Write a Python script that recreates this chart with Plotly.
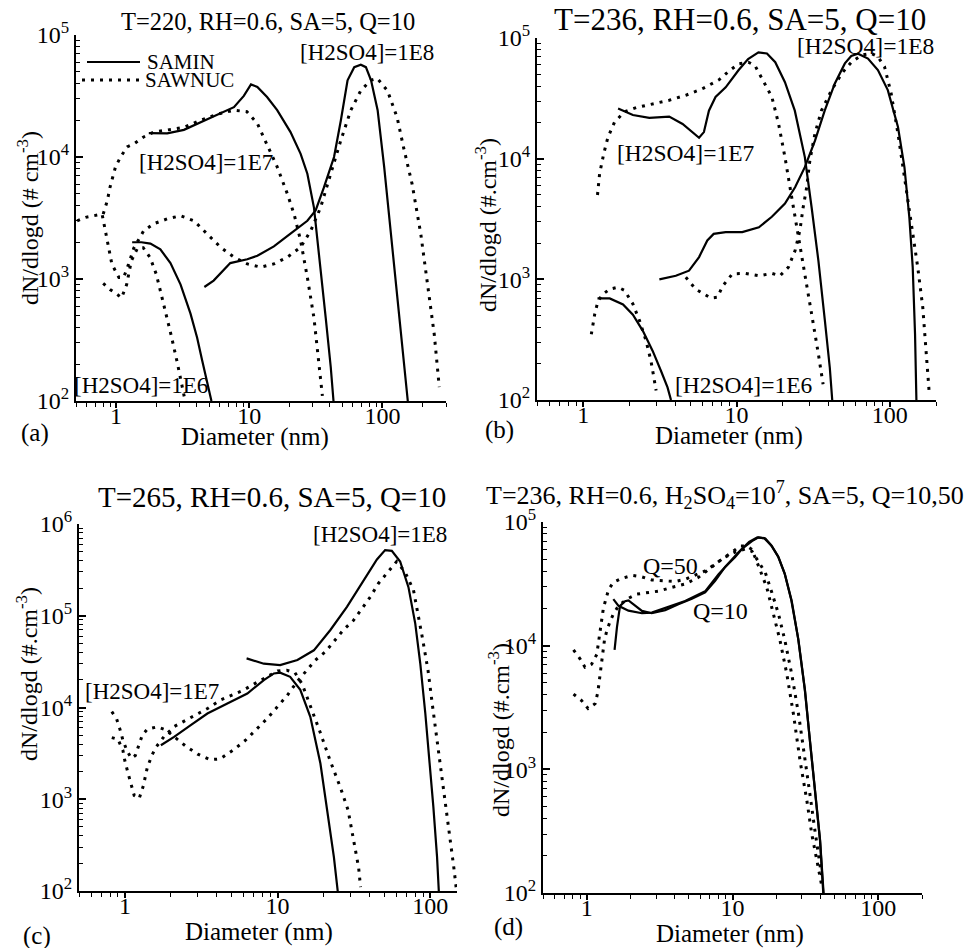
import math
import plotly.graph_objects as go

# ---- data (diameter in nm, dN/dlogd in #/cm3) ----
# (a) T=220
a_min_1e6_d = [1.32, 1.55, 1.81, 2.15, 2.56, 3.05, 3.62, 4.06, 4.43, 4.83, 5.2]
a_min_1e6_n = [2000, 2000, 1950, 1750, 1350, 900, 520, 330, 215, 140, 100]
a_nuc_1e6_d = [0.8, 0.9, 1.0, 1.1, 1.2, 1.3, 1.45, 1.6, 1.8, 2.0, 2.15, 2.4, 2.6, 2.87, 3.13, 3.3]
a_nuc_1e6_n = [920, 820, 760, 700, 900, 1400, 1800, 1800, 1500, 1100, 800, 500, 340, 210, 130, 100]
a_min_1e7_d = [1.76, 2.42, 3.23, 4.31, 5.74, 7.67, 9.1, 10.3, 11.5, 13.6, 16.2, 20.4, 24.3, 27.3,
               30.6, 34.3, 37.5, 40.9, 42.9]
a_min_1e7_n = [15700, 15600, 16700, 19300, 22400, 25600, 31700, 39300, 37500, 31000, 24200, 16000,
               10600, 7300, 3850, 1250, 480, 190, 100]
a_nuc_1e7_d = [0.8, 0.86, 0.9, 0.99, 1.08, 1.21, 1.36, 1.61, 1.92, 2.42, 3.23, 4.31, 5.74, 7.67,
               9.6, 11.5, 13.6, 16.2, 19.3, 21.7, 24.3, 27.3, 30.6, 33.4, 35.4]
a_nuc_1e7_n = [3400, 4400, 5650, 8300, 10000, 12100, 12800, 14600, 16000, 16700, 17500, 20000,
               22400, 24200, 23500, 18800, 12800, 8300, 5000, 3400, 2060, 1030, 480, 190, 110]
a_min_1e8_d = [4.6, 5.4, 7.2, 9.66, 11.5, 15.3, 20.4, 27.3, 31.5, 36.3, 43.3, 48.7, 54.7, 61.4,
               68.8, 75.1, 82.1, 92.0, 103, 116, 126, 137, 150, 155]
a_min_1e8_n = [860, 970, 1350, 1450, 1550, 1850, 2350, 3000, 3650, 5600, 10000, 19900, 42500,
               54500, 57000, 54500, 42500, 24200, 8300, 2350, 910, 350, 140, 100]
a_nuc_1e8_d = [0.51, 0.59, 0.68, 0.785, 0.856, 0.93, 1.05, 1.14, 1.24, 1.36, 1.61, 1.92, 2.42,
               3.05, 3.84, 4.83, 6.09, 7.67, 9.66, 12.2, 15.3, 19.3, 24.3, 28.9, 34.3, 40.9, 48.7,
               57.9, 68.7, 81.5, 91.5, 109, 129, 144, 167, 194, 219, 245, 267]
a_nuc_1e8_n = [3000, 3200, 3300, 3400, 2100, 1320, 1030, 1030, 1320, 1800, 2480, 2840, 3110, 3300,
               3000, 2340, 1820, 1510, 1330, 1250, 1330, 1510, 1820, 2480, 3850, 7300, 13700,
               24200, 35000, 42500, 44000, 35000, 21000, 12000, 6000, 2340, 910, 350, 130]

# (b) T=236
b_min_1e6_d = [1.24, 1.49, 1.82, 2.11, 2.45, 2.84, 3.22, 3.55, 3.74]
b_min_1e6_n = [695, 695, 620, 510, 374, 255, 174, 127, 100]
b_nuc_1e6_d = [1.13, 1.19, 1.25, 1.35, 1.49, 1.69, 1.86, 2.11, 2.33, 2.57, 2.77, 2.91, 2.99]
b_nuc_1e6_n = [350, 515, 663, 755, 830, 860, 810, 625, 455, 310, 210, 150, 120]
b_min_1e7_d = [1.69, 2.11, 2.7, 3.64, 4.45, 5.16, 5.7, 6.13, 6.61, 7.3, 8.5, 10.3, 11.9, 13.9,
               15.8, 17.9, 20.7, 24.0, 27.9, 30.9, 34.2, 37.7, 40.6, 42.1]
b_min_1e7_n = [26000, 23000, 21800, 22300, 19400, 16600, 14900, 16600, 25000, 32500, 39000, 54000,
               67000, 76000, 74500, 63000, 43000, 25000, 10300, 3940, 1430, 455, 185, 100]
b_nuc_1e7_d = [1.24, 1.28, 1.36, 1.45, 1.6, 1.86, 2.22, 2.84, 3.64, 4.66, 5.99, 7.69, 8.9, 10.3,
               11.96, 13.2, 14.6, 17.0, 18.8, 20.7, 22.9, 25.3, 27.9, 30.9, 34.2, 36.7]
b_nuc_1e7_n = [5000, 7500, 10900, 15000, 20000, 24500, 26500, 28500, 30500, 33500, 38000, 45000,
               53000, 61000, 63000, 59000, 47000, 32500, 19500, 10300, 4800, 2230, 1110, 515, 240, 135]
b_min_1e8_d = [3.14, 4.02, 4.9, 5.7, 6.45, 7.1, 8.5, 10.9, 14.0, 17.0, 20.7, 24.1, 27.9, 32.5,
               37.6, 43.8, 50.9, 56, 62, 72, 83.6, 97, 113, 124.5, 134, 141, 146, 149]
b_min_1e8_n = [1000, 1070, 1180, 1530, 2100, 2380, 2460, 2460, 2700, 3300, 4240, 5800, 8500, 14100,
               25000, 42000, 61600, 71000, 74000, 67600, 54200, 37000, 18300, 8500, 3270, 1260, 352, 100]
b_nuc_1e8_d = [4.67, 5.42, 6.14, 6.79, 7.5, 8.15, 9.4, 11.4, 14.0, 17.0, 19.2, 21.8, 24.1, 25.9,
               27.2, 28.7, 30.1, 32.5, 35.8, 41.7, 48.7, 56.1, 65.2, 75.7, 83.6, 92.3, 102, 113,
               124.5, 137, 152, 164, 172, 181]
b_nuc_1e8_n = [1040, 830, 755, 700, 710, 885, 1110, 1120, 1070, 1120, 1070, 1260, 1730, 2540, 3940,
               5800, 9700, 16200, 25000, 37000, 51000, 63000, 72000, 74600, 70000, 57800, 34700,
               16100, 7050, 3080, 1260, 585, 255, 111]

# (c) T=265
c_min_1e7_d = [1.72, 2.1, 2.7, 3.47, 4.69, 6.34, 8.13, 9.47, 10.4, 12.1, 14.1, 16.4, 19.1, 21.1,
               23.4, 24.8]
c_min_1e7_n = [3880, 4790, 6410, 8600, 11070, 14200, 19900, 23500, 24000, 21600, 15600, 7900, 2450,
               823, 235, 100]
c_nuc_1e7_d = [0.82, 0.9, 0.97, 1.0, 1.05, 1.1, 1.15, 1.24, 1.32, 1.4, 1.5, 1.6, 1.8, 2.1, 2.5,
               3.0, 3.5, 4.2, 5.0, 6.0, 7.0, 8.0, 9.0, 10.0, 11.5, 13.0, 14.5, 16.4, 19.0, 22.0,
               26.0, 29.0, 31.6, 34.0, 35.0]
c_nuc_1e7_n = [4700, 4500, 3400, 2600, 1900, 1400, 1100, 1020, 1400, 2200, 3000, 3700, 4800, 6200,
               7200, 8500, 9800, 12000, 13500, 15500, 18000, 20500, 23000, 25000, 25500, 24000,
               18000, 10500, 5400, 2700, 1300, 760, 360, 180, 110]
c_min_1e8_d = [6.27, 8.13, 10.4, 13.5, 17.3, 22.2, 28.5, 36.6, 44.8, 50.7, 56.1, 63.6, 72.1, 79.9,
               86.2, 93.0, 100, 105, 111, 114]
c_min_1e8_n = [34300, 30000, 29000, 33000, 42000, 70000, 125000, 245000, 410000, 520000, 510000,
               390000, 205000, 82000, 30000, 8600, 2250, 824, 235, 100]
c_nuc_1e8_d = [0.82, 0.88, 0.93, 0.97, 1.03, 1.1, 1.17, 1.24, 1.3, 1.4, 1.5, 1.63, 1.85, 2.1, 2.5,
               3.0, 3.6, 4.2, 5.18, 6.17, 7.36, 8.55, 9.94, 11.6, 13.4, 15.6, 17.7, 20.6, 23.3,
               27.0, 31.4, 35.8, 40.5, 45.8, 51.9, 60.3, 68.4, 77.8, 89.6, 97, 104, 112, 120, 128,
               136, 143, 149]
c_nuc_1e8_n = [9000, 7600, 5700, 4400, 3400, 2800, 3000, 3900, 5000, 5800, 6000, 6150, 5700, 4800,
               3800, 3100, 2700, 2750, 3480, 4400, 5890, 7580, 10100, 13600, 19000, 25500, 32800,
               40500, 52000, 70000, 88700, 120000, 160000, 225000, 290000, 390000, 300000, 190000,
               54000, 25000, 10000, 4000, 1800, 800, 350, 180, 100]

# (d) T=236, [H2SO4]=1E7, Q=10 and Q=50
d_min_q10_d = [1.55, 1.61, 1.69, 1.83, 1.93, 2.09, 2.39, 2.79, 3.45, 4.25, 5.26, 6.49, 7.6, 8.9,
               10.4, 11.6, 13.6, 15.1, 16.8, 18.6, 20.7, 22.9, 25.5, 28.4, 31.5, 34.0, 36.8, 39.9, 42]
d_min_q10_n = [9230, 14100, 21000, 22900, 23200, 21600, 19100, 18300, 19400, 21600, 23900, 27000,
               33400, 43300, 51900, 60500, 70000, 75200, 73500, 64000, 52000, 37700, 23000, 11000,
               4300, 1700, 670, 265, 100]
d_min_q50_d = [1.52, 1.65, 1.93, 2.39, 2.79, 3.45, 4.73, 6.49, 8.0, 9.5, 11.0, 13.0, 14.8, 16.5,
               18.4, 20.5, 22.8, 25.3, 28.2, 31.3, 34.0, 36.8, 39.9, 42.2]
d_min_q50_n = [23800, 21000, 19200, 18300, 18500, 20300, 23000, 27500, 37700, 47000, 57000, 69000,
               75000, 74000, 65000, 53000, 38500, 23500, 11500, 4500, 1750, 690, 270, 100]
d_nuc_q50_d = [0.81, 0.9, 0.97, 1.08, 1.17, 1.23, 1.3, 1.41, 1.52, 1.74, 2.04, 2.39, 2.79, 3.45,
               4.04, 4.73, 5.53, 6.49, 7.6, 8.9, 10.4, 12.2, 13.6, 15.1, 16.8, 18.6, 20.7, 22.9,
               25.5, 28.4, 31.5, 34.0, 36.8, 38.9, 40.8]
d_nuc_q50_n = [9230, 7800, 6700, 7100, 8500, 13300, 20200, 28400, 32500, 35000, 37000, 36000,
               34000, 33400, 33000, 34400, 37000, 40200, 45700, 52000, 57000, 60500, 58000, 48000,
               39000, 27000, 18000, 11000, 5900, 2800, 1250, 630, 320, 206, 140]
d_nuc_q10_d = [0.81, 0.92, 1.02, 1.14, 1.19, 1.21, 1.25, 1.28, 1.32, 1.37, 1.45, 1.52, 1.65, 1.88,
               2.2, 2.65, 3.1, 3.83, 4.73, 5.84, 7.2, 8.44, 9.9, 11.3, 12.5, 13.6, 15.1, 17.2,
               19.1, 21.2, 23.6, 26.2, 29.1, 32.4, 35.0, 37.9, 40.8]
d_nuc_q10_n = [4060, 3600, 3100, 3400, 4200, 5000, 6300, 8300, 11000, 13200, 15900, 18000, 21000,
               23800, 26100, 27000, 27600, 29600, 31500, 35700, 43300, 50000, 57000, 64000, 64000,
               60000, 44000, 29500, 18000, 11000, 5900, 2800, 1170, 560, 300, 180, 118]

titles = [
    "T=220, RH=0.6, SA=5, Q=10",
    "T=236, RH=0.6, SA=5, Q=10",
    "T=265, RH=0.6, SA=5, Q=10",
    "T=236, RH=0.6, H<sub>2</sub>SO<sub>4</sub>=10<sup>7</sup>, SA=5, Q=10,50",
]
x_tick_vals = [1, 10, 100]
x_tick_text = ["1", "10", "100"]

FONT = "Liberation Serif"
W, H = 970, 948


def px(x):
    return x / W


def py(y):
    return 1 - y / H


SOLID = dict(color="black", width=2.2)
DOTTED = dict(color="black", width=3, dash="3px,6px")

panels = [
    dict(box=(76, 446, 35, 401), xmax=300, ydec=(2, 5), curves=[
        (a_min_1e6_d, a_min_1e6_n, SOLID), (a_nuc_1e6_d, a_nuc_1e6_n, DOTTED),
        (a_min_1e7_d, a_min_1e7_n, SOLID), (a_nuc_1e7_d, a_nuc_1e7_n, DOTTED),
        (a_min_1e8_d, a_min_1e8_n, SOLID), (a_nuc_1e8_d, a_nuc_1e8_n, DOTTED)]),
    dict(box=(537, 936, 38, 400), xmax=200, ydec=(2, 5), curves=[
        (b_min_1e6_d, b_min_1e6_n, SOLID), (b_nuc_1e6_d, b_nuc_1e6_n, DOTTED),
        (b_min_1e7_d, b_min_1e7_n, SOLID), (b_nuc_1e7_d, b_nuc_1e7_n, DOTTED),
        (b_min_1e8_d, b_min_1e8_n, SOLID), (b_nuc_1e8_d, b_nuc_1e8_n, DOTTED)]),
    dict(box=(79, 457, 524, 891), xmax=150, ydec=(2, 6), curves=[
        (c_min_1e7_d, c_min_1e7_n, SOLID), (c_nuc_1e7_d, c_nuc_1e7_n, DOTTED),
        (c_min_1e8_d, c_min_1e8_n, SOLID), (c_nuc_1e8_d, c_nuc_1e8_n, DOTTED)]),
    dict(box=(543, 922, 522, 893), xmax=200, ydec=(2, 5), curves=[
        (d_min_q10_d, d_min_q10_n, SOLID), (d_min_q50_d, d_min_q50_n, SOLID),
        (d_nuc_q50_d, d_nuc_q50_n, DOTTED), (d_nuc_q10_d, d_nuc_q10_n, DOTTED)]),
]

fig = go.Figure()
layout = {}
for i, p in enumerate(panels, start=1):
    sfx = "" if i == 1 else str(i)
    x0, x1, y0, y1 = p["box"]
    for d, n, line in p["curves"]:
        fig.add_trace(go.Scatter(x=d, y=n, mode="lines", line=line, xaxis="x" + sfx,
                                 yaxis="y" + sfx, showlegend=False, hoverinfo="skip"))
    lo, hi = p["ydec"]
    y_vals = [10 ** k for k in range(lo, hi + 1)]
    y_text = ["10<sup>%d</sup>" % k for k in range(lo, hi + 1)]
    y_minor = [m * 10 ** k for k in range(lo, hi) for m in range(2, 10)]
    x_minor = [v for v in [0.5, 0.6, 0.7, 0.8, 0.9] + [m * 10 ** k for k in range(0, 3) for m in range(2, 10)]
               if v <= p["xmax"]]
    common = dict(type="log", showline=True, linecolor="black", linewidth=2, showgrid=False,
                  zeroline=False, automargin=False, tickmode="array", tickcolor="black",
                  tickwidth=1.5, tickfont=dict(family=FONT, size=24, color="black"))
    layout["xaxis" + sfx] = dict(
        common, domain=[px(x0), px(x1)], range=[math.log10(0.5), math.log10(p["xmax"])],
        anchor="y" + sfx, tickvals=x_tick_vals, ticktext=x_tick_text, ticks="outside", ticklen=5,
        ticklabelstandoff=-13,
        minor=dict(ticks="outside", ticklen=4, tickwidth=1.3, tickcolor="black",
                   tickmode="array", tickvals=x_minor, showgrid=False))
    layout["yaxis" + sfx] = dict(
        common, domain=[py(y1), py(y0)], range=[lo, hi], anchor="x" + sfx,
        tickvals=y_vals, ticktext=y_text, ticks="inside", ticklen=7,
        minor=dict(ticks="inside", ticklen=4, tickwidth=1.3, tickcolor="black",
                   tickmode="array", tickvals=y_minor, showgrid=False))


def note(text, x, y, size=23, angle=0, xanchor="center"):
    return dict(text=text, x=px(x), y=py(y), xref="paper", yref="paper", showarrow=False,
                xanchor=xanchor, yanchor="middle", textangle=angle,
                font=dict(family=FONT, size=size, color="black"))


annotations = [
    note(titles[0], 268, 21, 24.5), note(titles[1], 740, 20, 31),
    note(titles[2], 272, 497, 29), note(titles[3], 725, 495, 26),
    note("dN/dlogd (# cm<sup>-3</sup>)", 28, 218, 24, -90),
    note("dN/dlogd (#.cm<sup>-3</sup>)", 486, 225, 24, -90),
    note("dN/dlogd (#.cm<sup>-3</sup>)", 27, 674, 24, -90),
    note("dN/dlogd (#.cm<sup>-3</sup>)", 499, 730, 24, -90),
    note("Diameter (nm)", 255, 437, 25), note("Diameter (nm)", 729, 436, 25),
    note("Diameter (nm)", 259, 932, 25), note("Diameter (nm)", 730, 934, 25),
    note("(a)", 35, 433, 25), note("(b)", 500, 430, 25),
    note("(c)", 37, 936, 25), note("(d)", 508, 927, 25),
    note("[H2SO4]=1E8", 367, 52), note("[H2SO4]=1E7", 206, 162), note("[H2SO4]=1E6", 141, 385),
    note("[H2SO4]=1E8", 865, 46, 23.5), note("[H2SO4]=1E7", 686, 153, 23.5),
    note("[H2SO4]=1E6", 744, 385, 23.5),
    note("[H2SO4]=1E8", 380, 534), note("[H2SO4]=1E7", 152, 691),
    note("Q=50", 670, 566, 24), note("Q=10", 720, 611, 24),
    note("SAMIN", 145, 62, 21, xanchor="left"), note("SAWNUC", 143, 80, 21, xanchor="left"),
]

# legend samples of panel (a)
shapes = [
    dict(type="line", xref="paper", yref="paper", x0=px(87), x1=px(140), y0=py(62), y1=py(62),
         line=SOLID),
    dict(type="line", xref="paper", yref="paper", x0=px(82), x1=px(140), y0=py(80), y1=py(80),
         line=DOTTED),
]

fig.update_layout(
    width=W, height=H, margin=dict(l=0, r=0, t=0, b=0),
    paper_bgcolor="white", plot_bgcolor="white",
    font=dict(family=FONT, color="black"),
    annotations=annotations, shapes=shapes, **layout,
)
# page body has a default 8px margin; drop it so the figure sits at the window corner
fig.write_html("out.html", config={"displayModeBar": False},
               post_script="document.body.style.margin = '0';")
